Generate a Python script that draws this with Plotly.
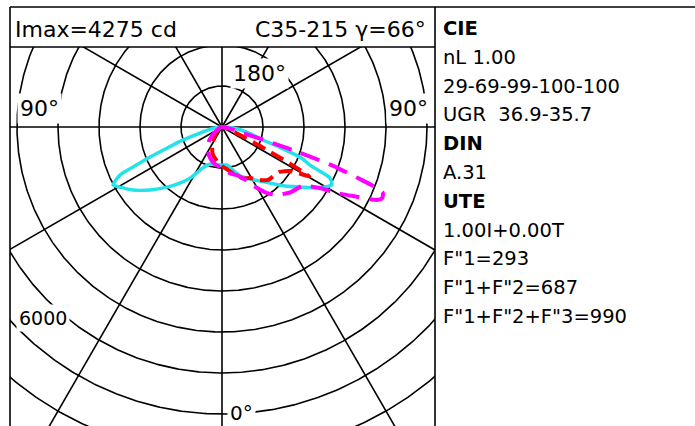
import numpy as np
import plotly.graph_objects as go

# ---------------- data (gamma angle from nadir, + = C35 side, - = C215 side) -------------
cyan_ang = [-90, -85, -80, -74.7, -71.6, -69, -67.4, -65.8, -64.8, -62, -59.5, -54.7, -48.8,
            -42.5, -36.9, -32, -27, -21.5, -13.7, 0, 7.5, 14, 20.2, 28.3, 35.1, 40.6, 46.9,
            52.4, 56.7, 59.8, 62.2, 64.7, 65.5, 66.6, 68.5, 70.5, 72.4, 75.5, 78, 84.8, 90]
cyan_cd = [0, 100, 250, 556, 1000, 1436, 1900, 2380, 2750, 3010, 2890, 2660, 2330,
           1990, 1710, 1470, 1180, 1000, 930, 930, 935, 1080, 1270, 1440, 1610, 1800, 2105,
           2400, 2710, 2910, 3030, 2910, 2700, 2340, 2100, 1530, 1050, 780, 650, 270, 0]

red_ang = [-90, -60, -45, -35, -27, -20, -12, 0, 8, 15, 22, 28.8, 35.6, 41, 45, 52, 57.1,
           59, 60.5, 61.5, 62, 63.4, 66, 70, 80, 90]
red_cd = [0, 80, 200, 350, 520, 680, 790, 950, 1060, 1200, 1350, 1420, 1590, 1710, 1730,
          1780, 1975, 2200, 2450, 1950, 1690, 1040, 480, 200, 50, 0]

mag_ang = [-90, -75, -60, -54, -45, -35, -21, -10, 0, 10, 17, 25, 28, 34.3, 39, 46, 54, 58,
           60.1, 62.2, 64.8, 66, 67.7, 68.7, 69.4, 70.5, 71.2, 71.8, 72.3, 72.8, 74, 78, 85, 90]
mag_cd = [0, 20, 120, 210, 420, 630, 810, 930, 1000, 1150, 1230, 1450, 1620, 1950, 2130,
          2300, 2440, 2810, 3230, 3610, 4180, 4275, 4240, 3950, 3540, 3000, 2450, 1940,
          1410, 1050, 530, 200, 50, 0]

ring_values = [1000, 2000, 3000, 4000, 5000, 6000, 7000, 8000, 9000]
spoke_angles = list(range(0, 360, 30))

header_left = "Imax=4275 cd"
header_right = "C35-215 γ=66°"
panel_lines = ["<b>CIE</b>", "nL 1.00", "29-69-99-100-100", "UGR \u00a036.9-35.7",
               "<b>DIN</b>", "A.31", "<b>UTE</b>", "1.00I+0.00T", "F\"1=293",
               "F\"1+F\"2=687", "F\"1+F\"2+F\"3=990"]

# ---------------- layout geometry ----------------
W, H = 695, 426
L, R, T, B = 10, 260, 47, 0
CX, CY = 222, 127          # pixel position of the luminaire centre
PX = 41 / 1000.0           # pixels per cd
PW, PH = W - L - R, H - T - B
FONT = "DejaVu Sans"


def px_to_data(px, py):
    return (px - CX) / PX, (CY - py) / PX


def paper_x(px):
    return (px - L) / PW


def paper_y(py):
    return (H - B - py) / PH


def polar_xy(ang, cd):
    a = np.radians(np.asarray(ang, dtype=float))
    r = np.asarray(cd, dtype=float)
    return r * np.sin(a), -r * np.cos(a)


fig = go.Figure()

# grid circles
t = np.linspace(0, 2 * np.pi, 721)
gx, gy = [], []
for rv in ring_values:
    gx += list(rv * np.cos(t)) + [None]
    gy += list(rv * np.sin(t)) + [None]
fig.add_trace(go.Scatter(x=gx, y=gy, mode="lines", line=dict(color="black", width=1.6),
                         hoverinfo="skip", showlegend=False))

# radial spokes
sx, sy = [], []
for a in spoke_angles:
    ex, ey = polar_xy([a], [12000])
    sx += [0, ex[0], None]
    sy += [0, ey[0], None]
fig.add_trace(go.Scatter(x=sx, y=sy, mode="lines", line=dict(color="black", width=1.6),
                         hoverinfo="skip", showlegend=False))

# photometric curves
for ang, cd, col, dash, w in [
    (cyan_ang, cyan_cd, "#22e3ea", "solid", 3.5),
    (red_ang, red_cd, "#ff0000", "14px,7px", 4),
    (mag_ang, mag_cd, "#ff00ff", "20px,10px", 4),
]:
    x, y = polar_xy(ang, cd)
    fig.add_trace(go.Scatter(x=x, y=y, mode="lines",
                             line=dict(color=col, width=w, dash=dash, shape="spline", smoothing=0.6),
                             hoverinfo="skip", showlegend=False))

xr = [(L - CX) / PX, (W - R - CX) / PX]
yr = [-(H - B - CY) / PX, (CY - T) / PX]

annotations = []
# polar labels (white boxes)
for txt, px, py, anchor, size in [
    ("180°", 230, 73, "left", 22),
    ("0°", 227, 413, "left", 20),
    ("90°", 39, 108, "center", 22),
    ("90°", 408, 108, "center", 22),
    ("6000", 43, 318, "center", 19),
]:
    dx, dy = px_to_data(px, py)
    annotations.append(dict(x=dx, y=dy, xref="x", yref="y", text=txt, showarrow=False,
                            xanchor=anchor, yanchor="middle", bgcolor="white", borderpad=2,
                            font=dict(family=FONT, size=size, color="black")))

# header
annotations.append(dict(x=paper_x(13), y=paper_y(29), xref="paper", yref="paper",
                        text=header_left, showarrow=False, xanchor="left", yanchor="middle",
                        font=dict(family=FONT, size=22, color="black")))
annotations.append(dict(x=paper_x(428), y=paper_y(29), xref="paper", yref="paper",
                        text=header_right, showarrow=False, xanchor="right", yanchor="middle",
                        font=dict(family=FONT, size=22, color="black")))

# right info panel
for i, txt in enumerate(panel_lines):
    annotations.append(dict(x=paper_x(441), y=paper_y(28.5 + i * 28.8), xref="paper",
                            yref="paper", text=txt, showarrow=False, xanchor="left",
                            yanchor="middle", font=dict(family=FONT, size=19.5, color="black")))

# frame lines
shapes = []
for (x0, y0, x1, y1) in [(10, 7, 695, 7), (10, 7, 10, 426), (435, 7, 435, 426),
                         (10, 47, 435, 47)]:
    shapes.append(dict(type="line", xref="paper", yref="paper",
                       x0=paper_x(x0), y0=paper_y(y0), x1=paper_x(x1), y1=paper_y(y1),
                       line=dict(color="black", width=1.6)))

fig.update_layout(
    width=W, height=H, margin=dict(l=L, r=R, t=T, b=B, pad=0),
    paper_bgcolor="white", plot_bgcolor="white",
    xaxis=dict(range=xr, showgrid=False, zeroline=False, showticklabels=False,
               showline=False, ticks="", fixedrange=True),
    yaxis=dict(range=yr, showgrid=False, zeroline=False, showticklabels=False,
               showline=False, ticks="", fixedrange=True),
    annotations=annotations, shapes=shapes, showlegend=False,
)

fig.write_html("out.html", config={"displayModeBar": False},
               post_script="document.body.style.margin='0';document.body.style.overflow='hidden';")
